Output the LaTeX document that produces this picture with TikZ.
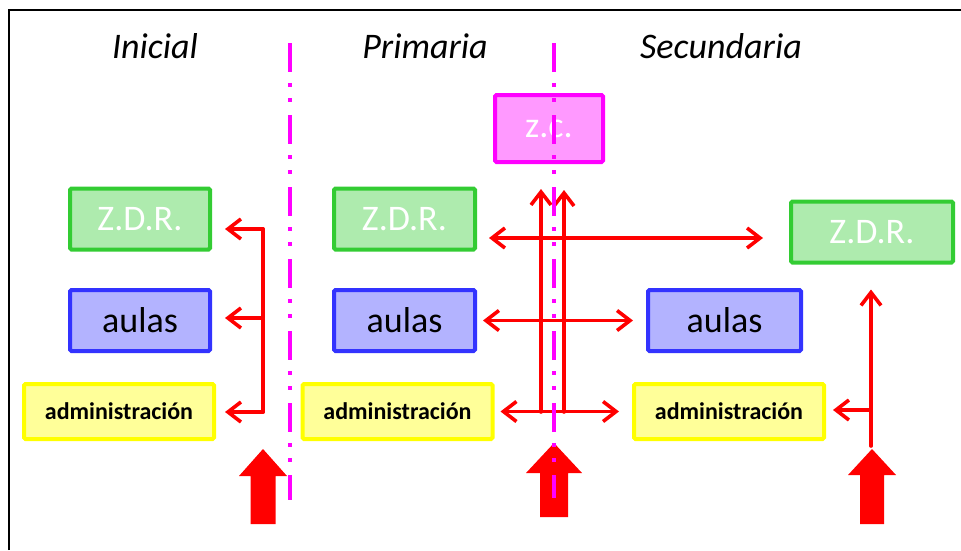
\documentclass[tikz,border=0pt]{standalone}
\usepackage{fontspec}
\setmainfont{Carlito}
\usetikzlibrary{arrows.meta}

\definecolor{zdrline}{HTML}{33CC33}
\definecolor{zdrfill}{HTML}{AEEBAE}
\definecolor{aulaline}{HTML}{3333FF}
\definecolor{aulafill}{HTML}{B3B3FF}
\definecolor{admline}{HTML}{FFFF00}
\definecolor{admfill}{HTML}{FFFF99}
\definecolor{zcline}{HTML}{FF00FF}
\definecolor{zcfill}{HTML}{FF99FF}

\begin{document}
\begin{tikzpicture}[x=1pt, y=-1pt,
  box/.style={draw, line width=4pt, rounded corners=1.5pt, inner sep=0pt, minimum height=61pt, font=\fontsize{36}{40}\selectfont},
  zdr/.style={box, draw=zdrline, fill=zdrfill, text=white},
  aula/.style={box, draw=aulaline, fill=aulafill},
  adm/.style={box, draw=admline, fill=admfill, minimum width=190pt, minimum height=55pt, font=\fontsize{24}{28}\selectfont\bfseries},
  title/.style={anchor=base, font=\fontsize{36}{40}\selectfont\itshape},
  link/.style={red, line width=3.6pt, line cap=round, arrows={-Straight Barb[length=13pt, width=20pt]}},
  both/.style={arrows={Straight Barb[length=13pt, width=20pt]-Straight Barb[length=13pt, width=20pt]}},
  divider/.style={zcline, line width=3.6pt, dash pattern=on 29pt off 11pt on 4pt off 11pt on 4pt off 13pt}
]
\useasboundingbox (0,0) rectangle (961,550);

% Frame
\draw[line width=2.5pt] (9,550) -- (9,10) -- (961,10);

% Titles
\node[title] (tIni) at (155,58) {Inicial};
\node[title] (tPri) at (425,58) {Primaria};
\node[title] (tSec) at (721,58) {Secundaria};

% Inicial
\node[zdr, minimum width=140pt] (zdrIni) at (140,219) {Z.D.R.};
\node[aula, minimum width=140pt] (aulasIni) at (140,320.5) {aulas};
\node[adm] (admIni) at (119,411.5) {administración};

% Primaria
\node[zdr, minimum width=141pt] (zdrPri) at (404.5,219) {Z.D.R.};
\node[aula, minimum width=141pt] (aulasPri) at (404.5,320.5) {aulas};
\node[adm] (admPri) at (397.5,411.5) {administración};
\node[box, draw=zcline, fill=zcfill, text=white, minimum width=108pt, minimum height=67pt] (zc) at (549,128.5) {z.c.};

% Secundaria
\node[zdr, minimum width=162pt] (zdrSec) at (872,232) {Z.D.R.};
\node[aula, minimum width=153pt] (aulasSec) at (724.5,320.5) {aulas};
\node[adm] (admSec) at (729,411.5) {administración};

% Inicial connectors
\coordinate (iTop) at (263,229);
\coordinate (iMid) at (263,318);
\coordinate (iBot) at (263,412);
\draw[link, arrows=-] (iTop) -- (iBot);
\draw[link, shorten >=13pt] (iTop) -- (iTop -| zdrIni.east);
\draw[link, shorten >=13pt] (iMid) -- (iMid -| aulasIni.east);
\draw[link, shorten >=9pt] (iBot) -- (iBot -| admIni.east);

% Primaria - Secundaria connectors
\coordinate (zLeft) at (489,238);
\coordinate (zRight) at (763,238);
\coordinate (vL) at (541,412);
\coordinate (vR) at (564,412);
\draw[link, both] (zLeft) -- (zRight);
\draw[link, both, shorten <=6pt, shorten >=13pt] (aulasPri.east) -- (aulasSec.west);
\draw[link, both, shorten <=6pt, shorten >=13pt] (admPri.east) -- (admSec.west);
\draw[link, shorten >=25pt] (vL) -- (vL |- zc.south);
\draw[link, shorten >=26pt] (vR) -- (vR |- zc.south);

% Secundaria connectors
\coordinate (sBot) at (871,446);
\coordinate (sBr) at (871,410);
\draw[link, shorten >=25pt] (sBot) -- (sBot |- zdrSec.south);
\draw[link, shorten >=7pt] (sBr) -- (sBr -| admSec.east);

% Entrance arrows
\fill[red] (263,449) -- ++(24,27) -- ++(-11.5,0) -- ++(0,48) -- ++(-25,0) -- ++(0,-48) -- ++(-11.5,0) -- cycle;
\fill[red] (554,443) -- ++(28,30) -- ++(-14,0) -- ++(0,44) -- ++(-28,0) -- ++(0,-44) -- ++(-14,0) -- cycle;
\fill[red] (872,449) -- ++(24,26) -- ++(-12,0) -- ++(0,49) -- ++(-24,0) -- ++(0,-49) -- ++(-12,0) -- cycle;

% Dividers
\draw[divider] (290,43) -- (290,500);
\draw[divider] (554,43) -- (554,498);

\end{tikzpicture}
\end{document}
